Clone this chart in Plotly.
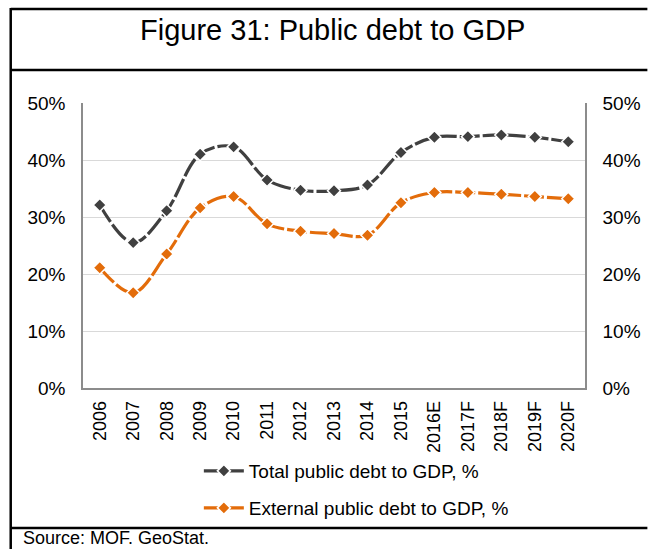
import plotly.graph_objects as go

years = ["2006", "2007", "2008", "2009", "2010", "2011", "2012", "2013", "2014",
         "2015", "2016E", "2017F", "2018F", "2019F", "2020F"]
total_debt = [0.321, 0.255, 0.311, 0.410, 0.423, 0.365, 0.347, 0.346, 0.356,
              0.413, 0.440, 0.441, 0.444, 0.440, 0.432]
external_debt = [0.211, 0.167, 0.235, 0.316, 0.336, 0.288, 0.275, 0.271, 0.268,
                 0.325, 0.343, 0.343, 0.340, 0.336, 0.332]

W, H = 653, 549
L, R, T, B = 83, 590, 103, 388
FONT = "Liberation Sans, Arial, sans-serif"

def px(x):
    return (x - L) / (R - L)

def py(y):
    return (B - y) / (B - T)

DASH = "20px,3px"

fig = go.Figure()
fig.add_trace(go.Scatter(
    x=years, y=total_debt, name="Total public debt to GDP, %",
    mode="lines+markers", line=dict(color="#404040", width=3.2, shape="spline",
                                     smoothing=1, dash=DASH),
    marker=dict(symbol="diamond", size=10, color="#404040",
                line=dict(color="white", width=1.5)),
    legend="legend"))
fig.add_trace(go.Scatter(
    x=years, y=external_debt, name="External public debt to GDP, %",
    mode="lines+markers", line=dict(color="#E36C0A", width=3.2, shape="spline",
                                    smoothing=1, dash=DASH),
    marker=dict(symbol="diamond", size=10, color="#E36C0A",
                line=dict(color="white", width=1.5)),
    legend="legend2"))
# invisible trace to anchor the right axis
fig.add_trace(go.Scatter(x=years, y=total_debt, yaxis="y2", mode="lines",
                         line=dict(width=0), opacity=0, showlegend=False,
                         hoverinfo="skip"))

shapes = []
lw = 2.5
shapes.append(dict(type="line", xref="paper", yref="paper",
                   x0=px(10), x1=px(10), y0=py(8), y1=py(549), line=dict(color="black", width=lw)))
for yy in (9, 70, 528):
    shapes.append(dict(type="line", xref="paper", yref="paper",
                       x0=px(10), x1=px(653), y0=py(yy), y1=py(yy), line=dict(color="black", width=lw)))

fig.update_layout(
    width=W, height=H,
    margin=dict(l=L, r=W - R, t=T, b=H - B),
    paper_bgcolor="white", plot_bgcolor="white",
    font=dict(family=FONT, size=18, color="black"),
    shapes=shapes,
    annotations=[
        dict(text="Figure 31: Public debt to GDP", xref="paper", yref="paper",
             x=px(335), y=py(30), xanchor="center", yanchor="middle",
             showarrow=False, font=dict(size=29, family=FONT, color="black")),
        dict(text="Source: MOF. GeoStat.", xref="paper", yref="paper",
             x=px(20), y=py(538), xanchor="left", yanchor="middle",
             showarrow=False, font=dict(size=18, family=FONT, color="black")),
    ],
    xaxis=dict(type="category", range=[-0.5, 14.5], tickangle=-90,
               showline=True, linecolor="#8C8C8C", linewidth=1.5,
               showgrid=False, ticks="", tickfont=dict(size=18),
               ticklabelstandoff=4, fixedrange=True),
    yaxis=dict(range=[0, 0.5], dtick=0.1, tickformat=".0%",
               showline=True, linecolor="#8C8C8C", linewidth=1.5,
               gridcolor="#D9D9D9", gridwidth=1.2, zeroline=False,
               ticks="", tickfont=dict(size=19), ticklabelstandoff=12),
    yaxis2=dict(range=[0, 0.5], dtick=0.1, tickformat=".0%", overlaying="y",
                side="right", showline=True, linecolor="#8C8C8C", linewidth=1.5,
                showgrid=False, zeroline=False, ticks="",
                tickfont=dict(size=19), ticklabelstandoff=12),
    legend=dict(x=px(200), y=py(471), xanchor="left", yanchor="middle",
                bgcolor="rgba(0,0,0,0)", font=dict(size=19), itemwidth=40),
    legend2=dict(x=px(200), y=py(508), xanchor="left", yanchor="middle",
                 bgcolor="rgba(0,0,0,0)", font=dict(size=19), itemwidth=40),
)

fig.write_html("out.html")
